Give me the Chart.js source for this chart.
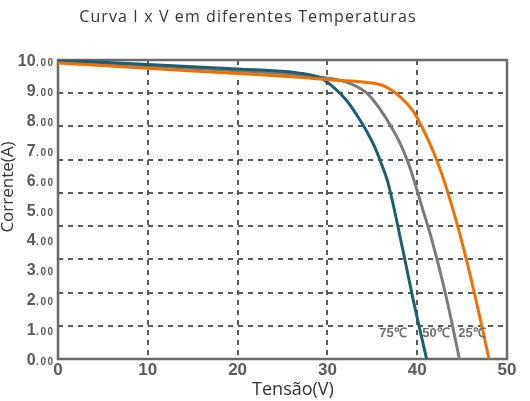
<!DOCTYPE html>
<html><head><meta charset="utf-8">
<script src="https://cdn.jsdelivr.net/npm/chart.js@4/dist/chart.umd.min.js"></script>
<style>html,body{margin:0;padding:0;background:#fff}</style>
</head><body>
<canvas id="c" width="530" height="401"></canvas>
<script>
// ---- data ----
const titleText = 'Curva I x V em diferentes Temperaturas';
const xTitle = 'Tensão(V)';
const yTitle = 'Corrente(A)';
const seriesNames = ['75℃', '50℃', '25℃'];

const v75 = [0, 10, 20, 26.9, 29.2, 30.6, 32.1, 33.4, 34.4, 35.3, 36.0, 36.7, 37.3, 38.4, 39.6, 41.05];
const i75 = [10.0, 9.85, 9.7, 9.56, 9.4, 9.11, 8.66, 8.10, 7.60, 7.07, 6.54, 5.95, 5.2, 3.65, 1.92, 0];

const v50 = [0, 10, 20, 27, 29.9, 32.5, 34.4, 35.8, 37.1, 38.1, 39.0, 39.7, 40.6, 41.6, 42.9, 43.8, 44.7];
const i50 = [9.95, 9.8, 9.64, 9.5, 9.4, 9.22, 8.89, 8.38, 7.77, 7.21, 6.56, 5.92, 5.02, 4.02, 2.5, 1.3, 0];

const v25 = [0, 10, 20, 26.9, 30.6, 34.4, 36.2, 38.1, 39.6, 40.7, 41.8, 42.7, 43.5, 44.4, 45.5, 46.6, 48.0];
const i25 = [9.9, 9.72, 9.55, 9.42, 9.33, 9.25, 9.14, 8.77, 8.27, 7.66, 6.93, 6.22, 5.48, 4.56, 3.3, 1.9, 0];

const yTickValues = [0, 1, 2, 3, 4, 5, 6, 7, 8, 9, 10];
const xTickValues = [0, 10, 20, 30, 40, 50];
const hGridDivisions = 9;          // the picture has 9 horizontal grid bands
const seriesLabelV = [37.3, 42.1, 46.1];
const seriesLabelI = 0.84;

// ---- styles ----
const colors = ['#1b5f72', '#7b7b7b', '#f07100'];
const gridColor = '#5a5a5a';
const frameColor = '#6a6a6a';
const tickColor = '#5a5a5a';

const toPts = (vs, is) => vs.map((v, k) => ({x: v, y: is[k]}));

const decor = {
  id: 'decor',
  beforeDraw(chart) {
    const ctx = chart.ctx;
    ctx.save();
    ctx.fillStyle = '#fff';
    ctx.fillRect(0, 0, chart.width, chart.height);
    ctx.restore();
  },
  beforeDatasetsDraw(chart) {
    const ctx = chart.ctx, a = chart.chartArea;
    ctx.save();
    ctx.strokeStyle = frameColor;
    ctx.lineWidth = 2.5;
    ctx.strokeRect(a.left, a.top, a.right - a.left, a.bottom - a.top);
    ctx.restore();
  },
  afterDatasetsDraw(chart) {
    const ctx = chart.ctx;
    const ys = chart.scales.y, xs = chart.scales.x;
    ctx.save();
    // title
    ctx.fillStyle = '#333';
    ctx.font = '16px "Open Sans"';
    ctx.textAlign = 'center';
    ctx.textBaseline = 'alphabetic';
    if ('letterSpacing' in ctx) ctx.letterSpacing = '1.1px';
    ctx.fillText(titleText, 248, 22);
    if ('letterSpacing' in ctx) ctx.letterSpacing = '0px';
    // x title
    ctx.font = '18px "Open Sans"';
    ctx.fillText(xTitle, 293, 395);
    // y title
    ctx.save();
    ctx.translate(13, 187);
    ctx.rotate(-Math.PI / 2);
    ctx.font = '17px "Open Sans"';
    ctx.fillText(yTitle, 0, 0);
    ctx.restore();
    // y tick labels: big integer + small decimals
    ctx.fillStyle = tickColor;
    ctx.textAlign = 'left';
    yTickValues.forEach(v => {
      const py = ys.getPixelForValue(v) + 6;
      const big = String(v), small = '.00';
      ctx.font = 'bold 16px "Liberation Sans"';
      const wb = ctx.measureText(big).width;
      ctx.font = 'bold 10px "Liberation Sans"';
      if ('letterSpacing' in ctx) ctx.letterSpacing = '1.5px';
      const ws = ctx.measureText(small).width;
      const x0 = 54 - ws - wb;
      ctx.fillText(small, x0 + wb + 0.5, py);
      if ('letterSpacing' in ctx) ctx.letterSpacing = '0px';
      ctx.font = 'bold 16px "Liberation Sans"';
      ctx.fillText(big, x0, py);
    });
    // series labels
    ctx.font = 'bold 13px "Liberation Sans"';
    ctx.fillStyle = '#6e6e6e';
    ctx.textAlign = 'center';
    ctx.textBaseline = 'middle';
    seriesNames.forEach((n, k) => {
      ctx.fillText(n, xs.getPixelForValue(seriesLabelV[k]), ys.getPixelForValue(seriesLabelI));
    });
    ctx.restore();
  }
};

new Chart(document.getElementById('c'), {
  type: 'line',
  data: {
    datasets: [
      {label: seriesNames[0], data: toPts(v75, i75), borderColor: colors[0], order: 1},
      {label: seriesNames[1], data: toPts(v50, i50), borderColor: colors[1], order: 2},
      {label: seriesNames[2], data: toPts(v25, i25), borderColor: colors[2], order: 0}
    ].map(d => Object.assign(d, {borderWidth: 3, pointRadius: 0, fill: false, cubicInterpolationMode: 'monotone'}))
  },
  options: {
    responsive: false,
    animation: false,
    layout: {padding: {top: 60, right: 23, left: 0, bottom: 0}},
    plugins: {legend: {display: false}, title: {display: false}, tooltip: {enabled: false}},
    scales: {
      x: {
        type: 'linear', min: 0, max: 50,
        afterBuildTicks: s => { s.ticks = xTickValues.map(v => ({value: v})); },
        afterFit: s => { s.height = 42; },
        ticks: {color: tickColor, font: {family: 'Liberation Sans', size: 17, weight: 'bold'}, padding: 1, maxRotation: 0},
        grid: {
          drawTicks: false, lineWidth: 2,
          color: c => (c.tick && (c.tick.value === 0 || c.tick.value === 50)) ? 'rgba(0,0,0,0)' : gridColor
        },
        border: {display: false, dash: [5, 5]}
      },
      y: {
        type: 'linear', min: 0, max: 10, position: 'left',
        afterBuildTicks: s => { s.ticks = yTickValues.map(v => ({value: v})); },
        afterFit: s => { s.width = 58; },
        ticks: {display: false},
        grid: {display: false},
        border: {display: false}
      },
      yGrid: {
        type: 'linear', min: 0, max: hGridDivisions, position: 'left',
        afterBuildTicks: s => { s.ticks = Array.from({length: hGridDivisions + 1}, (_, k) => ({value: k})); },
        afterFit: s => { s.width = 0; },
        ticks: {display: false},
        grid: {
          drawTicks: false, lineWidth: 2,
          color: c => (c.tick && (c.tick.value === 0 || c.tick.value === hGridDivisions)) ? 'rgba(0,0,0,0)' : gridColor
        },
        border: {display: false, dash: [5, 5]}
      }
    }
  },
  plugins: [decor]
});
</script>
</body></html>
